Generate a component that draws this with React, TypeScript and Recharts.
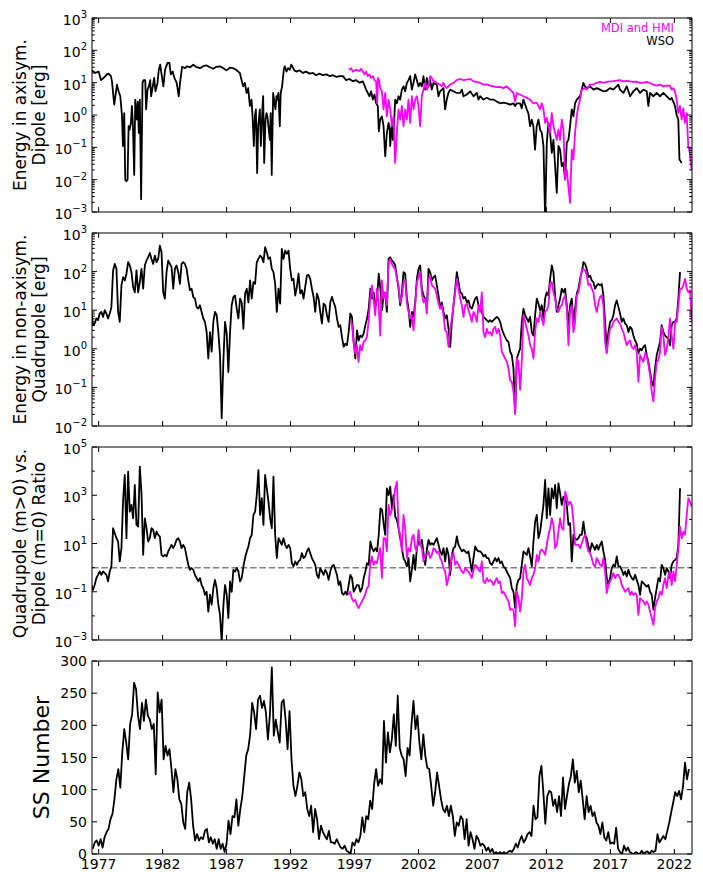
import React from 'react';
import { LineChart, Line, XAxis, YAxis, ReferenceLine } from 'recharts';

const FONT = "'DejaVu Sans', sans-serif";
const MAGENTA = '#ff00ff';
const BLACK = '#000000';

const X_DOMAIN: [number, number] = [1976.48, 2023.38];
const YEAR_TICKS = [1977, 1982, 1987, 1992, 1997, 2002, 2007, 2012, 2017, 2022];

// ---------- Panel 1: axisymmetric dipole energy [erg] (year, value) ----------
const wsoDipole: [number, number][] = [
  [1976.48, 24], [1976.74, 20], [1977.0, 22], [1977.18, 12], [1977.39, 14], [1977.65, 18], [1977.78, 19], [1977.96, 16],
  [1978.04, 11], [1978.22, 2.1], [1978.43, 8.7], [1978.56, 5.4], [1978.69, 3.8], [1978.82, 1.0], [1978.9, 0.11], [1979.0, 1.15],
  [1979.08, 0.01], [1979.16, 0.0089], [1979.26, 0.01], [1979.34, 0.45], [1979.42, 0.35], [1979.52, 0.57], [1979.6, 1.9],
  [1979.68, 0.45], [1979.78, 0.014], [1979.86, 3.0], [1979.99, 0.72], [1980.06, 2.6], [1980.14, 0.28], [1980.22, 3.0],
  [1980.32, 0.0025], [1980.43, 9.8], [1980.51, 12], [1980.64, 12], [1980.71, 1.5], [1980.82, 6.1], [1980.92, 7.7], [1981.03, 12],
  [1981.1, 3.8], [1981.23, 7.7], [1981.34, 14], [1981.44, 5.4], [1981.6, 9.8], [1981.7, 25], [1981.81, 36], [1981.94, 16],
  [1982.06, 7.7], [1982.19, 25], [1982.38, 41], [1982.53, 41], [1982.64, 18], [1982.79, 22], [1982.92, 14], [1983.1, 9.8],
  [1983.26, 3.8], [1983.36, 9.8], [1983.52, 31], [1983.75, 28], [1983.88, 32], [1984.15, 30], [1984.4, 36], [1984.65, 30],
  [1984.92, 28], [1985.2, 33], [1985.44, 34], [1985.7, 30], [1985.96, 27], [1986.2, 31], [1986.48, 32], [1986.75, 28],
  [1987.0, 24], [1987.25, 29], [1987.52, 28], [1987.75, 25], [1987.91, 22], [1988.04, 20], [1988.17, 12], [1988.3, 7.7],
  [1988.43, 9.8], [1988.56, 4.8], [1988.69, 6.8], [1988.82, 1.9], [1988.95, 3.0], [1989.03, 0.91], [1989.13, 0.11], [1989.21, 0.91],
  [1989.29, 1.5], [1989.39, 0.016], [1989.47, 0.45], [1989.6, 1.5], [1989.68, 0.11], [1989.81, 1.9], [1989.86, 3.8], [1989.94, 0.033],
  [1990.04, 0.72], [1990.12, 1.15], [1990.19, 0.91], [1990.27, 0.45], [1990.38, 0.17], [1990.45, 1.15], [1990.53, 0.014], [1990.64, 4.8],
  [1990.71, 3.0], [1990.82, 1.5], [1990.9, 3.8], [1990.97, 3.0], [1991.05, 4.8], [1991.16, 0.45], [1991.23, 4.8], [1991.34, 7.7],
  [1991.47, 25], [1991.55, 32], [1991.68, 22], [1991.81, 28], [1991.94, 25], [1992.06, 36], [1992.3, 24], [1992.45, 22],
  [1992.7, 24], [1992.97, 20], [1993.2, 22], [1993.5, 19], [1993.75, 20], [1994.0, 17], [1994.25, 19], [1994.53, 17],
  [1994.8, 18], [1995.05, 16], [1995.31, 17], [1995.6, 15], [1995.85, 16], [1996.09, 16], [1996.35, 12], [1996.6, 13],
  [1996.87, 11], [1997.1, 12], [1997.39, 10], [1997.65, 11], [1997.91, 6.1], [1998.17, 3.8], [1998.3, 5.4], [1998.43, 3.0],
  [1998.56, 4.3], [1998.69, 2.3], [1998.82, 1.9], [1998.9, 0.31], [1999.0, 0.72], [1999.14, 0.91], [1999.27, 0.45], [1999.4, 0.053],
  [1999.53, 0.28], [1999.66, 0.57], [1999.75, 0.35], [1999.79, 0.11], [1999.92, 0.57], [2000.0, 0.17], [2000.05, 0.28], [2000.13, 1.15],
  [2000.18, 3.0], [2000.31, 2.3], [2000.44, 3.8], [2000.57, 3.0], [2000.7, 6.1], [2000.83, 7.7], [2000.96, 5.4], [2001.09, 9.8],
  [2001.22, 12], [2001.35, 16], [2001.48, 6.1], [2001.61, 9.8], [2001.74, 18], [2001.87, 12], [2002.0, 7.7], [2002.13, 9.8],
  [2002.26, 7.7], [2002.39, 16], [2002.52, 6.1], [2002.65, 14], [2002.78, 7.7], [2002.91, 12], [2003.04, 6.1], [2003.17, 9.8],
  [2003.43, 8.7], [2003.56, 3.8], [2003.69, 5.4], [2003.95, 6.8], [2004.08, 1.5], [2004.21, 3.0], [2004.34, 4.8], [2004.47, 6.1],
  [2004.73, 5.4], [2004.99, 4.8], [2005.26, 4.8], [2005.39, 6.1], [2005.52, 3.8], [2005.78, 4.3], [2006.04, 5.4], [2006.3, 3.8],
  [2006.56, 4.8], [2006.69, 3.0], [2006.82, 3.8], [2007.08, 3.0], [2007.34, 3.4], [2007.6, 3.0], [2007.86, 3.0], [2008.12, 2.6],
  [2008.38, 2.3], [2008.64, 2.4], [2008.9, 2.3], [2009.16, 2.1], [2009.42, 2.3], [2009.55, 1.9], [2009.68, 2.3], [2009.94, 2.3],
  [2010.07, 1.6], [2010.2, 3.0], [2010.46, 1.5], [2010.59, 1.15], [2010.72, 0.45], [2010.85, 0.72], [2010.98, 0.45], [2011.11, 0.085],
  [2011.24, 0.45], [2011.38, 0.72], [2011.51, 0.35], [2011.64, 0.28], [2011.77, 0.11], [2011.9, 0.0006], [2012.03, 0.14], [2012.16, 0.57],
  [2012.29, 0.28], [2012.42, 0.067], [2012.55, 0.17], [2012.68, 0.026], [2012.81, 0.0039], [2012.94, 0.11], [2013.07, 0.085], [2013.2, 0.026],
  [2013.33, 0.033], [2013.46, 0.01], [2013.59, 0.14], [2013.72, 0.17], [2013.85, 0.45], [2013.98, 1.5], [2014.11, 0.91], [2014.24, 2.3],
  [2014.37, 3.0], [2014.63, 3.8], [2014.76, 6.1], [2014.89, 9.8], [2015.02, 7.7], [2015.15, 6.8], [2015.41, 7.7], [2015.68, 6.1],
  [2015.93, 6.8], [2016.19, 6.1], [2016.45, 5.4], [2016.71, 5.6], [2016.97, 6.8], [2017.23, 6.1], [2017.49, 7.7], [2017.62, 8.7],
  [2017.75, 6.1], [2018.01, 4.8], [2018.28, 7.7], [2018.54, 3.8], [2018.8, 5.4], [2019.06, 6.8], [2019.32, 4.8], [2019.58, 6.1],
  [2019.84, 5.4], [2019.97, 1.9], [2020.1, 4.8], [2020.36, 3.8], [2020.62, 4.8], [2020.88, 3.8], [2021.14, 4.8], [2021.4, 3.8],
  [2021.66, 3.0], [2021.79, 3.4], [2021.92, 2.6], [2022.05, 1.9], [2022.18, 1.0], [2022.31, 0.72], [2022.4, 0.042], [2022.49, 0.037],
  [2022.57, 0.033],
];

const mdiHmiDipole: [number, number][] = [
  [1996.56, 25], [1996.74, 28], [1996.87, 22], [1997.13, 25], [1997.39, 23], [1997.52, 27], [1997.65, 22], [1997.78, 18],
  [1997.91, 22], [1998.04, 16], [1998.17, 18], [1998.3, 14], [1998.43, 16], [1998.56, 12], [1998.69, 11], [1998.77, 2.3],
  [1998.84, 14], [1998.92, 12], [1999.0, 6.8], [1999.14, 5.4], [1999.27, 1.5], [1999.4, 4.8], [1999.53, 0.91], [1999.66, 3.0],
  [1999.79, 1.5], [1999.92, 0.45], [2000.05, 0.91], [2000.18, 0.033], [2000.31, 0.28], [2000.44, 1.5], [2000.57, 0.72], [2000.7, 1.9],
  [2000.83, 0.45], [2000.96, 1.5], [2001.09, 0.72], [2001.22, 3.0], [2001.35, 0.57], [2001.48, 3.8], [2001.61, 1.5], [2001.74, 3.0],
  [2001.87, 3.8], [2002.0, 1.9], [2002.13, 0.45], [2002.26, 3.8], [2002.39, 6.1], [2002.52, 9.8], [2002.65, 6.1], [2002.78, 7.7],
  [2002.91, 16], [2003.04, 14], [2003.17, 11], [2003.3, 11], [2003.43, 9.8], [2003.69, 8.7], [2003.82, 7.7], [2003.95, 9.8],
  [2004.08, 7.7], [2004.21, 6.8], [2004.47, 8.7], [2004.73, 9.8], [2004.99, 12], [2005.26, 13], [2005.52, 12], [2005.78, 12.5],
  [2006.04, 13], [2006.17, 12], [2006.3, 11], [2006.56, 10.5], [2006.82, 9.8], [2007.08, 8.7], [2007.34, 8.9], [2007.6, 8.1],
  [2007.86, 7.7], [2008.12, 7.3], [2008.38, 7.4], [2008.64, 6.8], [2008.9, 7.7], [2009.16, 6.1], [2009.42, 4.8], [2009.55, 2.6],
  [2009.68, 4.8], [2009.94, 4.3], [2010.2, 3.8], [2010.46, 3.4], [2010.72, 3.0], [2010.98, 2.3], [2011.24, 2.4], [2011.51, 1.5],
  [2011.64, 2.3], [2011.77, 1.5], [2011.9, 0.57], [2012.03, 0.81], [2012.16, 0.45], [2012.29, 0.28], [2012.42, 1.15], [2012.55, 0.45],
  [2012.68, 0.28], [2012.81, 0.17], [2012.94, 0.35], [2013.07, 0.17], [2013.2, 0.72], [2013.33, 0.35], [2013.46, 0.01], [2013.59, 0.02],
  [2013.72, 0.0062], [2013.85, 0.0019], [2013.98, 0.085], [2014.11, 0.042], [2014.24, 0.28], [2014.37, 0.91], [2014.5, 1.9], [2014.63, 3.0],
  [2014.76, 6.1], [2014.89, 6.3], [2015.02, 6.8], [2015.15, 6.1], [2015.41, 8.7], [2015.68, 8.9], [2015.93, 9.8], [2016.19, 10.5],
  [2016.45, 9.8], [2016.71, 10.5], [2016.97, 11], [2017.23, 11.2], [2017.49, 11.5], [2017.75, 12], [2018.01, 11], [2018.28, 11.3],
  [2018.54, 11], [2018.8, 10.5], [2019.06, 10.7], [2019.32, 9.8], [2019.58, 10], [2019.84, 10.5], [2020.1, 9.8], [2020.36, 8.7],
  [2020.62, 8.1], [2020.88, 8.7], [2021.14, 7.7], [2021.4, 8.1], [2021.66, 8.1], [2021.79, 6.1], [2021.92, 6.8], [2022.05, 5.4],
  [2022.18, 3.0], [2022.31, 1.15], [2022.44, 1.9], [2022.57, 0.72], [2022.7, 1.6], [2022.83, 0.57], [2022.96, 1.15], [2023.09, 0.11],
  [2023.22, 0.067], [2023.35, 0.02],
];

// ---------- sampling steps (years between readings) ----------
const STEP_A = 0.1306;
const STEP_B = 0.1302;

// ---------- Panel 2: non-axisymmetric quadrupole energy [erg] ----------
const wsoQuadStartA = 1976.43;
const wsoQuadA = [
  9, 4.1, 4.5, 6.1, 5.5, 8.2, 9, 6.7, 10, 8.2, 6.1, 8.2, 12, 107, 158, 118, 9, 5, 44, 72,
  59, 88, 175, 144, 97, 40, 29, 107, 29, 53, 118, 36, 144, 193, 235, 304, 213, 158, 260, 175,
  213, 471, 317, 29, 20, 97, 193, 158, 130, 36, 118, 144, 97, 48, 158, 175, 158, 118, 59, 33,
  36, 22, 20, 12, 11, 13.4, 9, 6.1, 5, 2.7, 0.56, 2.7, 0.84, 5, 9, 7.4, 2.7, 0.69, 0.016, 0.46,
  5, 2.5, 0.25, 2.7, 13.4, 22, 24, 11, 6.1, 20, 16, 3.3, 27, 36, 16, 59, 20, 53, 48, 175,
  213, 260, 235, 175, 427, 317, 213, 235, 118, 97, 48, 9, 36, 14.8, 386, 213, 350, 287, 350, 118,
  59, 65, 24, 40, 88, 27, 33, 20, 40, 79, 82, 65, 36, 22, 9, 27, 20, 9, 4.5, 14.8,
  13.4, 7.4, 5, 16, 22, 16, 12, 6.1, 3.7, 4.1, 2.0, 1.12, 1.35, 1.24, 2.7, 8.2, 6.7, 1.5, 0.56, 3.0,
  1.64, 2.2, 2.0, 2.5, 4.1, 6.1, 11, 36, 20, 29, 12, 20, 88, 36, 10, 29,
];
const wsoQuadStartB = 1999.4;
const wsoQuadB = [
  27, 9, 213, 235, 193, 175, 144, 72, 36, 13.4, 29, 97, 88, 20, 11, 3.7, 9, 6.7, 16, 65,
  118, 144, 36, 24, 20, 11, 118, 97, 59, 72, 79, 44, 24, 11, 16, 9, 6.1, 7.4, 3.3, 1.12,
  5, 13.4, 36, 97, 53, 29, 27, 20, 22, 16, 18, 12, 11, 14.8, 20, 22, 13.4, 12, 9, 6.7,
  6.1, 5.5, 5, 5.5, 5, 5.5, 6.1, 6.7, 6.1, 5, 3.3, 2.5, 2.0, 1.64, 1.5, 0.84, 0.69, 0.31, 0.021, 0.56,
  0.76, 1.0, 5, 11, 7.4, 6.1, 5, 6.7, 2.7, 2.2, 7.4, 20, 14.8, 10, 13.4, 6.1, 20, 29, 24, 65,
  144, 97, 24, 9, 13.4, 20, 36, 29, 36, 13.4, 4.1, 13.4, 20, 5, 11, 27, 36, 65, 97, 175,
  158, 118, 72, 79, 59, 53, 36, 44, 48, 44, 48, 24, 5, 1.0, 2.7, 5, 5.5, 7.4, 13.4, 18,
  12, 8.2, 5, 6.1, 4.5, 4.1, 2.7, 3.7, 3.3, 2.2, 1.64, 1.35, 0.76, 1.0, 0.92, 1.12, 1.24, 0.69, 0.46, 0.25,
  0.14, 0.11, 0.31, 0.69, 1.0, 1.5, 4.1, 2.7, 2.2, 2.0, 1.8, 1.24, 4.1, 5, 5, 6.1, 20, 97,
];
const mdiQuadStartA = 1996.66;
const mdiQuadA = [5, 4.5, 1.5, 0.76, 1.24, 0.46, 1.24, 0.92, 1.5, 1.64, 2.0, 5, 20, 44, 20, 7.4, 36, 16, 2.2, 59, 20];
const mdiQuadStartB = 1999.4;
const mdiQuadB = [
  29, 13.4, 175, 213, 158, 130, 118, 65, 44, 16, 22, 53, 59, 14.8, 9, 6.1, 7.4, 3.0, 13.4, 53,
  72, 97, 27, 16, 20, 8.2, 65, 79, 44, 40, 36, 24, 14.8, 11, 13.4, 7.4, 3.0, 2.7, 1.12, 3.3,
  6.1, 13.4, 29, 65, 36, 20, 13.4, 6.7, 13.4, 14.8, 10, 7.4, 5, 9, 7.4, 5, 13.4, 9, 29, 2.7,
  2.0, 3.3, 2.5, 2.7, 2.2, 3.3, 3.7, 2.5, 3.3, 2.2, 0.84, 0.69, 0.56, 0.46, 0.31, 0.15, 0.14, 0.078, 0.021, 0.56,
  0.46, 0.086, 0.46, 7.4, 5, 3.3, 2.2, 1.24, 1.0, 0.56, 2.7, 6.1, 5, 9, 6.1, 4.1, 9, 10, 13.4, 48,
  53, 29, 20, 11, 9, 12, 13.4, 20, 24, 11, 1.24, 9, 13.4, 2.7, 5, 24, 29, 53, 107, 118,
  107, 79, 44, 48, 36, 29, 13.4, 9, 16, 22, 24, 13.4, 1.5, 0.76, 1.8, 3.3, 3.7, 5, 5.5, 6.1,
  5, 4.5, 3.3, 2.7, 1.8, 1.24, 1.5, 1.64, 1.12, 1.0, 1.24, 0.84, 0.14, 0.69, 0.56, 0.46, 0.76, 0.69, 0.38, 0.21,
  0.078, 0.043, 0.17, 0.46, 0.51, 0.84, 3.7, 2.2, 0.69, 1.0, 2.0, 6.1, 2.2, 1.0, 5, 5, 13.4, 36, 36, 44,
  65, 36, 29, 33, 5,
];

// ---------- Panel 3: quadrupole (m>0) / dipole (m=0) ratio ----------
const wsoRatioStartA = 1976.43;
const wsoRatioA = [
  0.19, 0.12, 0.19, 0.37, 0.5, 0.69, 0.5, 0.69, 0.59, 0.5, 0.27, 0.69, 1.12, 43, 27, 16.6, 12.1, 1.8, 6.4, 640,
  6900, 16.6, 9500, 209, 395, 111, 2660, 59, 50, 15300, 1200, 3.4, 111, 43, 12.1, 16.6, 43, 37, 16.6, 31,
  23, 19.5, 3.4, 2.9, 3.4, 2.9, 4.7, 6.4, 8.8, 6.4, 8.8, 14.2, 16.6, 12.1, 6.4, 8.8, 6.4, 2.9, 1.31, 0.81,
  0.95, 0.81, 0.5, 0.37, 0.27, 0.37, 0.19, 0.14, 0.075, 0.1, 0.015, 0.075, 0.029, 0.14, 0.31, 0.14, 0.029, 0.011, 0.00083, 0.025,
  0.19, 0.075, 0.0081, 0.27, 0.1, 0.81, 0.69, 0.95, 0.69, 0.27, 0.37, 1.12, 2.5, 4.7, 7.5, 16.6, 23, 152, 209, 1020,
  11100, 152, 750, 59, 6900, 1940, 540, 111, 43, 5900, 23, 2.5, 16.6, 12.1, 8.8, 16.6, 8.8, 6.4, 8.8, 6.4,
  1.53, 1.12, 1.8, 1.31, 1.8, 2.1, 4.0, 2.5, 2.9, 4.7, 6.4, 4.0, 2.5, 1.8, 1.31, 0.5, 0.37, 0.95, 0.69, 0.5,
  0.81, 0.59, 0.31, 0.69, 1.12, 1.31, 0.81, 0.5, 0.19, 0.27, 0.088, 0.075, 0.1, 0.075, 0.19, 0.5, 0.37, 0.1, 0.14, 0.19,
  0.19, 0.1, 0.14, 0.37, 0.69, 1.53, 1.31, 12.1, 6.4, 4.7, 6.4, 4.7, 23, 288, 245, 59,
];
const wsoRatioStartB = 1999.4;
const wsoRatioB = [
  23, 1940, 1020, 2270, 288, 1020, 130, 95, 43, 16.6, 6.4, 2.5, 1.8, 1.12, 2.5, 0.27, 0.81, 3.4, 0.81, 6.4,
  12.1, 8.8, 14.2, 4.0, 1.31, 5.5, 14.2, 8.8, 10.3, 8.8, 12.1, 16.6, 8.8, 4.7, 3.4, 6.4, 1.8, 6.4, 3.4, 0.5,
  3.4, 6.4, 7.5, 19.5, 8.8, 6.4, 4.7, 5.5, 4.7, 4.0, 4.7, 1.8, 0.69, 2.5, 7.5, 5.5, 4.7, 4.7, 4.0, 2.9,
  3.4, 2.5, 2.5, 1.53, 1.31, 1.8, 2.5, 1.8, 2.5, 1.53, 1.8, 1.12, 0.95, 0.69, 0.5, 0.37, 0.14, 0.1, 0.021, 0.19,
  0.31, 0.37, 1.31, 4.7, 4.0, 3.4, 6.4, 2.9, 1.12, 12.1, 81, 152, 16.6, 31, 111, 395, 4300, 111, 1940, 152,
  1940, 750, 2660, 288, 3100, 1200, 395, 870, 750, 395, 59, 69, 1.8, 23, 16.6, 14.2, 16.6, 23, 23, 81,
  23, 16.6, 7.5, 4.7, 10.3, 7.5, 5.5, 8.8, 5.5, 8.8, 12.1, 4.7, 2.1, 0.37, 0.19, 0.37, 0.95, 1.31, 1.12, 2.9,
  1.12, 1.12, 0.81, 0.5, 0.69, 0.43, 0.81, 0.5, 0.37, 0.31, 0.5, 0.31, 0.19, 0.075, 0.27, 0.23, 0.19, 0.165, 0.19, 0.1,
  0.075, 0.018, 0.054, 0.14, 0.37, 0.27, 1.31, 0.95, 0.5, 0.95, 0.69, 0.37, 1.31, 1.8, 2.1, 2.5, 8.8, 1940,
];
const mdiRatioStartA = 1996.53;
const mdiRatioA = [0.075, 0.1, 0.054, 0.04, 0.046, 0.029, 0.021, 0.029, 0.04, 0.054, 0.075, 0.14, 0.165, 1.31, 2.9, 1.31, 1.8, 1.53, 3.4, 6.4, 0.37, 16.6];
const mdiRatioStartB = 1999.4;
const mdiRatioB = [
  16.6, 4.7, 395, 152, 245, 395, 1940, 3650, 43, 23, 4.7, 152, 43, 2.5, 6.4, 4.7, 16.6, 23, 6.4, 4.7,
  37, 8.8, 6.4, 1.8, 3.4, 3.4, 4.7, 2.5, 3.4, 6.4, 5.5, 4.0, 4.7, 2.5, 1.8, 0.95, 0.69, 0.19, 0.37, 0.95,
  3.4, 4.0, 1.31, 1.8, 1.31, 0.95, 0.69, 0.59, 0.95, 0.81, 0.69, 0.5, 0.37, 0.81, 1.31, 1.12, 0.81, 0.69, 1.8, 0.27,
  0.23, 0.37, 0.27, 0.31, 0.27, 0.19, 0.27, 0.37, 0.23, 0.27, 0.088, 0.1, 0.075, 0.054, 0.04, 0.018, 0.019, 0.018, 0.0037, 0.1,
  0.054, 0.015, 0.054, 0.69, 1.31, 0.37, 0.27, 0.19, 0.37, 0.5, 0.95, 3.4, 1.8, 4.7, 5.5, 4.7, 3.4, 8.8, 23, 43,
  111, 59, 6.4, 8.8, 31, 111, 43, 37, 1400, 870, 395, 540, 395, 81, 8.8, 8.8, 8.8, 6.4, 10.3, 16.6,
  23, 8.8, 4.7, 4.0, 2.5, 1.31, 1.12, 2.5, 1.8, 1.31, 1.12, 2.5, 0.69, 0.088, 0.19, 0.27, 0.37, 0.59, 0.37, 0.5,
  0.5, 0.37, 0.19, 0.14, 0.1, 0.12, 0.14, 0.075, 0.1, 0.075, 0.088, 0.075, 0.011, 0.054, 0.046, 0.04, 0.029, 0.04, 0.029, 0.015,
  0.0081, 0.0043, 0.021, 0.04, 0.054, 0.1, 0.075, 0.19, 0.37, 0.14, 0.5, 0.69, 0.19, 0.69, 0.27, 1.31, 6.4, 50, 16.6, 31,
  23, 152, 750, 540, 337,
];

// ---------- Panel 4: sunspot number ----------
const ssnStart = 1976.54;
const ssnStep = 0.1538;
const ssn = [
  8, 18, 21, 13, 23, 10, 26, 34, 39, 54, 62, 85, 116, 132, 103, 158, 194, 173, 147, 202,
  217, 266, 256, 215, 194, 235, 207, 240, 215, 209, 194, 202, 124, 251, 220, 240, 147, 168, 153, 163,
  132, 96, 132, 116, 85, 78, 49, 39, 96, 111, 85, 44, 21, 31, 21, 26, 23, 36, 39, 18,
  26, 16, 23, 8, 23, 8, 16, 3, 16, 52, 31, 59, 57, 85, 44, 70, 90, 121, 153, 163,
  186, 235, 220, 194, 240, 246, 227, 238, 220, 178, 215, 290, 184, 209, 190, 173, 235, 240, 209, 163,
  222, 147, 106, 90, 106, 127, 116, 90, 96, 70, 59, 75, 34, 70, 54, 23, 44, 34, 28, 23,
  36, 18, 18, 16, 23, 16, 10, 8, 13, 5, 3, 0, 18, 13, 23, 18, 28, 57, 34, 59,
  54, 83, 70, 109, 132, 106, 116, 109, 207, 142, 189, 158, 178, 217, 168, 246, 165, 153, 147, 121,
  165, 153, 202, 238, 194, 215, 173, 147, 186, 153, 134, 132, 106, 75, 96, 127, 106, 85, 70, 65,
  75, 59, 75, 59, 28, 49, 44, 59, 54, 23, 54, 13, 34, 23, 8, 28, 23, 13, 16, 13,
  5, 10, 3, 8, 0, 3, 0, 3, 0, 3, 0, 3, 5, 3, 8, 16, 10, 21, 28, 18,
  23, 31, 34, 28, 75, 54, 57, 121, 137, 96, 47, 90, 98, 96, 75, 85, 65, 90, 59, 119,
  70, 90, 109, 121, 147, 111, 129, 96, 114, 85, 54, 90, 65, 75, 59, 65, 49, 44, 31, 49,
  26, 21, 34, 16, 18, 16, 41, 8, 3, 0, 13, 5, 10, 3, 1, 0, 3, 1, 0, 5,
  0, 3, 4, 0, 5, 3, 5, 31, 18, 23, 28, 23, 36, 49, 65, 80, 96, 90, 98, 85,
  106, 142, 116, 132,
];

// ---------- tick value sets ----------
const P1_MAJOR = [0.001, 0.01, 0.1, 1, 10, 100, 1000];
const P2_MAJOR = [0.01, 0.1, 1, 10, 100, 1000];
const P3_MAJOR = [0.001, 0.1, 10, 1000, 100000];
const P3_MINOR = [0.01, 1, 100, 10000];
const SSN_TICKS = [0, 50, 100, 150, 200, 250, 300];

function withSubTicks(majors: number[]): number[] {
  const out: number[] = [];
  for (let i = 0; i < majors.length - 1; i++) {
    for (let m = 1; m < 10; m++) out.push(m === 1 ? majors[i] : m * majors[i]);
  }
  out.push(majors[majors.length - 1]);
  return out;
}

type Pt = { t: number; v: number };
const fromPairs = (p: [number, number][]): Pt[] => p.map(([t, v]) => ({ t, v }));
const fromGrid = (start: number, step: number, vals: number[]): Pt[] =>
  vals.map((v, i) => ({ t: Math.round((start + i * step) * 1000) / 1000, v }));

const dWsoDip = fromPairs(wsoDipole);
const dMdiDip = fromPairs(mdiHmiDipole);
const dWsoQuad = [...fromGrid(wsoQuadStartA, STEP_A, wsoQuadA), ...fromGrid(wsoQuadStartB, STEP_B, wsoQuadB)];
const dMdiQuad = [...fromGrid(mdiQuadStartA, STEP_A, mdiQuadA), ...fromGrid(mdiQuadStartB, STEP_B, mdiQuadB)];
const dWsoRatio = [...fromGrid(wsoRatioStartA, STEP_A, wsoRatioA), ...fromGrid(wsoRatioStartB, STEP_B, wsoRatioB)];
const dMdiRatio = [...fromGrid(mdiRatioStartA, STEP_A, mdiRatioA), ...fromGrid(mdiRatioStartB, STEP_B, mdiRatioB)];
const dSsn = fromGrid(ssnStart, ssnStep, ssn);

// ---------- tick renderers ----------
function expText(v: number): string {
  const e = Math.round(Math.log10(v));
  return e < 0 ? '\u2212' + String(-e) : String(e);
}

const MAJ = 5;
const MIN = 2.8;

function makeLeftTick(majors: number[], kind: 'log' | 'lin') {
  return (p: any) => {
    const v = p.payload.value;
    const major = majors.indexOf(v) >= 0;
    const x = p.x;
    const y = p.y;
    return (
      <g>
        <line x1={x} x2={x + (major ? MAJ : MIN)} y1={y} y2={y} stroke="#000" strokeWidth={1} />
        {major && kind === 'log' && (
          <text x={x - 5} y={y + 7} textAnchor="end" fontSize={14} fontFamily={FONT} fill="#000">
            <tspan>10</tspan>
            <tspan dy={-7} fontSize={10}>{expText(v)}</tspan>
          </text>
        )}
        {major && kind === 'lin' && (
          <text x={x - 5} y={y + 5} textAnchor="end" fontSize={14} fontFamily={FONT} fill="#000">
            {String(v)}
          </text>
        )}
      </g>
    );
  };
}

function makeRightTick(majors: number[]) {
  return (p: any) => {
    const v = p.payload.value;
    const major = majors.indexOf(v) >= 0;
    return <line x1={p.x} x2={p.x - (major ? MAJ : MIN)} y1={p.y} y2={p.y} stroke="#000" strokeWidth={1} />;
  };
}

const topTick = (p: any) => <line x1={p.x} x2={p.x} y1={p.y} y2={p.y + MAJ} stroke="#000" strokeWidth={1} />;

function makeBottomTick(showLabel: boolean) {
  return (p: any) => (
    <g>
      <line x1={p.x} x2={p.x} y1={p.y} y2={p.y - MAJ} stroke="#000" strokeWidth={1} />
      {showLabel && (
        <text x={p.x} y={p.y + 15} textAnchor="middle" fontSize={14} fontFamily={FONT} fill="#000">
          {String(p.payload.value)}
        </text>
      )}
    </g>
  );
}

function YLabel({ x, cy, lines, size }: { x: number; cy: number; lines: string[]; size: number }) {
  return (
    <text transform={`translate(${x},${cy}) rotate(-90)`} textAnchor="middle" fontSize={size} fontFamily={FONT} fill="#000">
      {lines.map((l, i) => (
        <tspan key={i} x={0} y={i * 18.5}>
          {l}
        </tspan>
      ))}
    </text>
  );
}

const W = 703;
const TOP_H = 18;
const PLOT_LEFT = 92;
const RIGHT_W = 11;

type PanelProps = {
  top: number;
  plotH: number;
  bottomH: number;
  scale: 'log' | 'linear';
  domain: [number, number];
  ticks: number[];
  majors: number[];
  kind: 'log' | 'lin';
  showYears: boolean;
  children: React.ReactNode;
};

function Panel({ top, plotH, bottomH, scale, domain, ticks, majors, kind, showYears, children }: PanelProps) {
  const h = TOP_H + plotH + bottomH;
  return (
    <div style={{ position: 'absolute', left: 0, top, width: W, height: h }}>
      <LineChart width={W} height={h} margin={{ top: 0, right: 0, bottom: 0, left: 0 }} style={{ overflow: 'visible' }}>
        <XAxis
          xAxisId="b"
          type="number"
          dataKey="t"
          domain={X_DOMAIN}
          allowDataOverflow
          ticks={YEAR_TICKS}
          interval={0}
          height={bottomH}
          tickSize={0}
          tickMargin={0}
          tickLine={false}
          axisLine={{ stroke: '#000', strokeWidth: 1 }}
          tick={makeBottomTick(showYears)}
        />
        <XAxis
          xAxisId="top"
          orientation="top"
          type="number"
          dataKey="t"
          domain={X_DOMAIN}
          allowDataOverflow
          ticks={YEAR_TICKS}
          interval={0}
          height={TOP_H}
          tickSize={0}
          tickMargin={0}
          tickLine={false}
          axisLine={{ stroke: '#000', strokeWidth: 1 }}
          tick={topTick}
        />
        <YAxis
          yAxisId="l"
          scale={scale}
          type="number"
          domain={domain}
          allowDataOverflow
          ticks={ticks}
          interval={0}
          width={PLOT_LEFT}
          tickSize={0}
          tickMargin={0}
          tickLine={false}
          axisLine={{ stroke: '#000', strokeWidth: 1 }}
          tick={makeLeftTick(majors, kind)}
        />
        <YAxis
          yAxisId="r"
          orientation="right"
          scale={scale}
          type="number"
          domain={domain}
          allowDataOverflow
          ticks={ticks}
          interval={0}
          width={RIGHT_W}
          tickSize={0}
          tickMargin={0}
          tickLine={false}
          axisLine={{ stroke: '#000', strokeWidth: 1 }}
          tick={makeRightTick(majors)}
        />
        {children}
      </LineChart>
    </div>
  );
}

const lineProps = {
  xAxisId: 'b',
  yAxisId: 'l',
  dataKey: 'v',
  type: 'linear' as const,
  dot: false,
  activeDot: false,
  isAnimationActive: false,
  strokeWidth: 1.8,
  strokeLinejoin: 'round' as const,
};

export default function App() {
  const mid = TOP_H + 193 / 2;
  return (
    <div style={{ position: 'absolute', left: 0, top: 0, width: W, height: 872, background: '#fff', overflow: 'hidden' }}>
      <Panel top={0} plotH={194} bottomH={10} scale="log" domain={[0.001, 1000]} ticks={withSubTicks(P1_MAJOR)} majors={P1_MAJOR} kind="log" showYears={false}>
        <Line {...lineProps} data={dWsoDip} stroke={BLACK} name="WSO" />
        <Line {...lineProps} data={dMdiDip} stroke={MAGENTA} name="MDI and HMI" />
        <YLabel x={26} cy={TOP_H + 97} lines={['Energy in axisym.', 'Dipole [erg]']} size={17} />
        <text x={674} y={31.5} textAnchor="end" fontSize={11.5} fontFamily={FONT} fill={MAGENTA}>MDI and HMI</text>
        <text x={674} y={45} textAnchor="end" fontSize={11.5} fontFamily={FONT} fill={BLACK}>WSO</text>
      </Panel>
      <Panel top={215} plotH={193} bottomH={10} scale="log" domain={[0.01, 1000]} ticks={withSubTicks(P2_MAJOR)} majors={P2_MAJOR} kind="log" showYears={false}>
        <Line {...lineProps} data={dWsoQuad} stroke={BLACK} />
        <Line {...lineProps} data={dMdiQuad} stroke={MAGENTA} />
        <YLabel x={26} cy={mid} lines={['Energy in non-axisym.', 'Quadrupole [erg]']} size={17} />
      </Panel>
      <Panel top={429} plotH={193} bottomH={10} scale="log" domain={[0.001, 100000]} ticks={[...P3_MAJOR, ...P3_MINOR].sort((a, b) => a - b)} majors={P3_MAJOR} kind="log" showYears={false}>
        <ReferenceLine xAxisId="b" yAxisId="l" y={1} stroke="#808080" strokeWidth={1.5} strokeDasharray="6.5 2.8" />
        <Line {...lineProps} data={dWsoRatio} stroke={BLACK} />
        <Line {...lineProps} data={dMdiRatio} stroke={MAGENTA} />
        <YLabel x={26} cy={mid} lines={['Quadrupole (m>0) vs.', 'Dipole (m=0) Ratio']} size={17} />
      </Panel>
      <Panel top={643} plotH={193} bottomH={18} scale="linear" domain={[0, 300]} ticks={SSN_TICKS} majors={SSN_TICKS} kind="lin" showYears={true}>
        <Line {...lineProps} data={dSsn} stroke={BLACK} />
        <YLabel x={49} cy={mid} lines={['SS Number']} size={22} />
      </Panel>
    </div>
  );
}
